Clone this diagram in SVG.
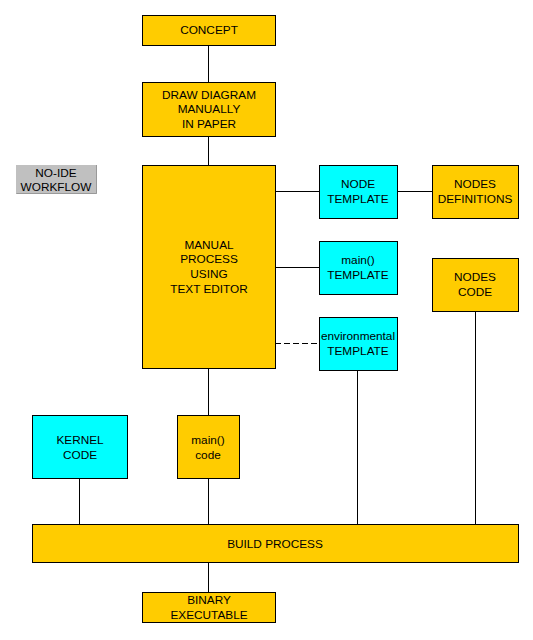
<svg xmlns="http://www.w3.org/2000/svg" width="533" height="640" viewBox="0 0 533 640">
<style>
.y{fill:#ffcc00;stroke:#000;stroke-width:1}
.c{fill:#00ffff;stroke:#000;stroke-width:1}
.g{fill:#c0c0c0;stroke:none}
text{font-family:"Liberation Sans",Arial,sans-serif;font-size:11.8px;fill:#000;text-anchor:middle}
.l{stroke:#000;stroke-width:1;fill:none}
.d{stroke:#000;stroke-width:1;fill:none;stroke-dasharray:6,3}
</style>
<rect width="533" height="640" fill="#fff"/>
<g id="connectors">
<line class="l" x1="208.5" y1="45" x2="208.5" y2="82"/>
<line class="l" x1="208.5" y1="136" x2="208.5" y2="165"/>
<line class="l" x1="275" y1="191.5" x2="319" y2="191.5"/>
<line class="l" x1="397" y1="191.5" x2="432" y2="191.5"/>
<line class="l" x1="275" y1="267.5" x2="319" y2="267.5"/>
<line class="d" x1="275" y1="343.5" x2="319" y2="343.5"/>
<line class="l" x1="208.5" y1="368" x2="208.5" y2="415"/>
<line class="l" x1="79.5" y1="478" x2="79.5" y2="524"/>
<line class="l" x1="208.5" y1="478" x2="208.5" y2="524"/>
<line class="l" x1="357.5" y1="370" x2="357.5" y2="524"/>
<line class="l" x1="475.5" y1="311" x2="475.5" y2="524"/>
<line class="l" x1="208.5" y1="562" x2="208.5" y2="592"/>
</g>
<g id="concept"><rect class="y" x="142.5" y="15.5" width="133" height="30"/><text x="209" y="34">CONCEPT</text></g>
<g id="draw"><rect class="y" x="142.5" y="82.5" width="133" height="54"/><text x="209" y="99">DRAW DIAGRAM</text><text x="209" y="113">MANUALLY</text><text x="209" y="128">IN PAPER</text></g>
<g id="noide"><rect class="g" x="16" y="165" width="81" height="29"/><path d="M16.5 193.5H96.5V165" stroke="#999" fill="none"/><text x="56" y="177">NO-IDE</text><text x="56" y="191">WORKFLOW</text></g>
<g id="manual"><rect class="y" x="142.5" y="165.5" width="133" height="203"/><text x="209" y="249">MANUAL</text><text x="209" y="263">PROCESS</text><text x="209" y="278">USING</text><text x="209" y="293">TEXT EDITOR</text></g>
<g id="nodetemplate"><rect class="c" x="319.5" y="165.5" width="78" height="53"/><text x="358" y="188">NODE</text><text x="358" y="203">TEMPLATE</text></g>
<g id="nodesdef"><rect class="y" x="432.5" y="165.5" width="86" height="53"/><text x="475" y="188">NODES</text><text x="475" y="203">DEFINITIONS</text></g>
<g id="maintemplate"><rect class="c" x="319.5" y="241.5" width="78" height="53"/><text x="358" y="264">main()</text><text x="358" y="279">TEMPLATE</text></g>
<g id="nodescode"><rect class="y" x="432.5" y="258.5" width="86" height="53"/><text x="475" y="281">NODES</text><text x="475" y="296">CODE</text></g>
<g id="envtemplate"><rect class="c" x="319.5" y="317.5" width="78" height="53"/><text x="358" y="340">environmental</text><text x="358" y="355">TEMPLATE</text></g>
<g id="kernel"><rect class="c" x="32.5" y="415.5" width="95" height="63"/><text x="80" y="444">KERNEL</text><text x="80" y="459">CODE</text></g>
<g id="maincode"><rect class="y" x="177.5" y="415.5" width="62" height="63"/><text x="208" y="444">main()</text><text x="208" y="459">code</text></g>
<g id="build"><rect class="y" x="32.5" y="524.5" width="486" height="38"/><text x="275" y="548">BUILD PROCESS</text></g>
<g id="binary"><rect class="y" x="142.5" y="592.5" width="133" height="30"/><text x="209" y="604">BINARY</text><text x="209" y="619">EXECUTABLE</text></g>
</svg>
